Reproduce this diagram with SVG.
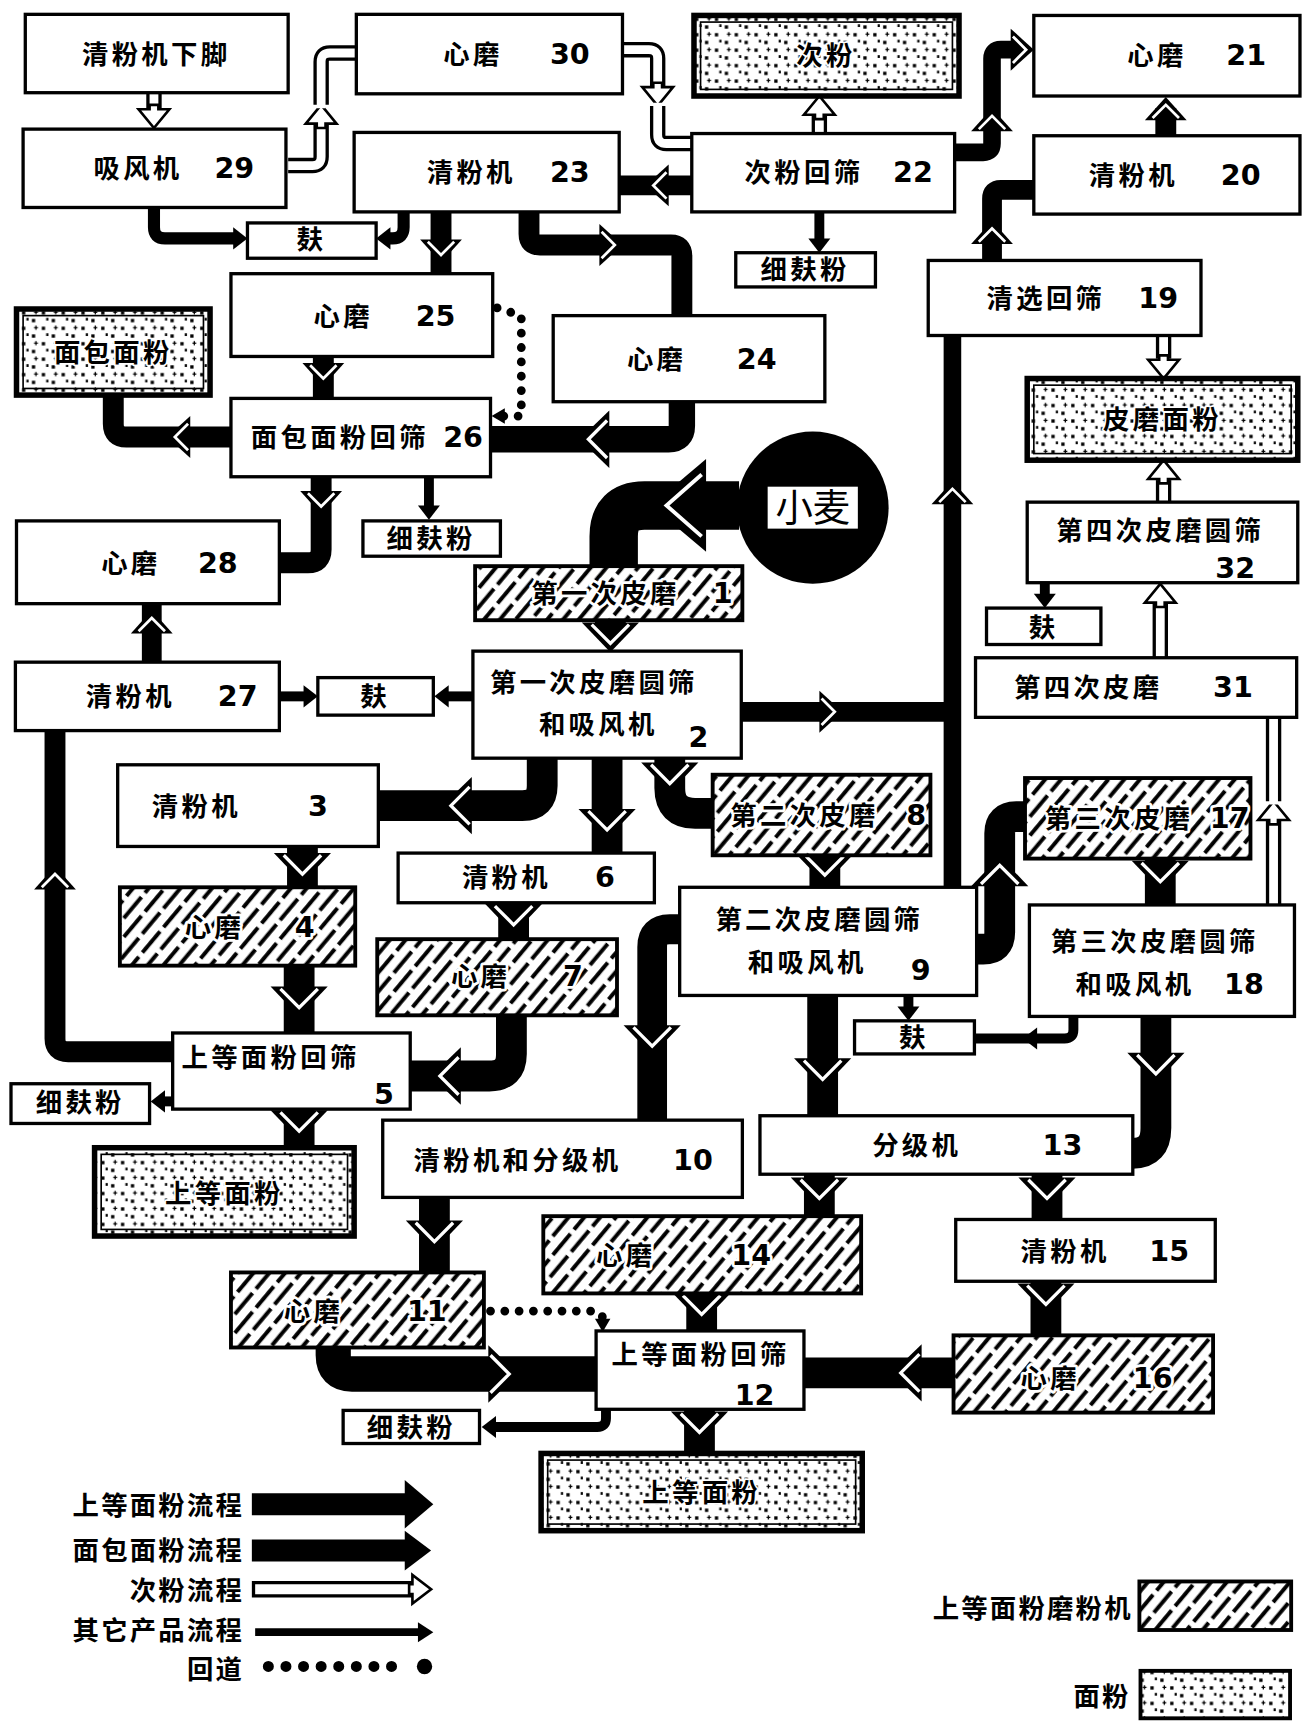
<svg xmlns="http://www.w3.org/2000/svg" width="1311" height="1725" viewBox="0 0 1311 1725">
<defs>
<style>
.box{fill:#fff;stroke:#000;stroke-width:3}
.hb{fill:url(#hatch);stroke:#000;stroke-width:3.5}
.db{fill:url(#dots);stroke:#000;stroke-width:5}
.di{fill:none;stroke:#000;stroke-width:1.5}
.t{font-family:"Noto Sans CJK SC","Noto Sans CJK JP",sans-serif;font-size:24px;font-weight:700;letter-spacing:3px;fill:#000}
.n{font-family:"DejaVu Sans","Liberation Sans",sans-serif;font-size:26px;font-weight:700;letter-spacing:0}
.halo{paint-order:stroke;stroke:#fff;stroke-width:5px;stroke-linejoin:round}
.T{fill:none;stroke:#000;stroke-width:28}
.M{fill:none;stroke:#000;stroke-width:19}
.S{fill:none;stroke:#000;stroke-width:9}
.hoB{fill:none;stroke:#000;stroke-width:14;stroke-linejoin:round}
.hoW{fill:none;stroke:#fff;stroke-width:8;stroke-linejoin:round}
.dot{fill:none;stroke:#000;stroke-width:8;stroke-linecap:round;stroke-dasharray:0 13}
.lt{font-family:"Noto Sans CJK SC","Noto Sans CJK JP",sans-serif;font-size:24px;font-weight:700;letter-spacing:2px;text-anchor:end}
</style>
<pattern id="hatch" width="22" height="30" patternUnits="userSpaceOnUse" patternTransform="rotate(40)">
<rect width="22" height="30" fill="#fff"/>
<line x1="5" y1="0" x2="5" y2="25" stroke="#000" stroke-width="3.6"/>
<line x1="16" y1="13" x2="16" y2="30" stroke="#000" stroke-width="3.6"/>
<line x1="16" y1="0" x2="16" y2="8" stroke="#000" stroke-width="3.6"/>
</pattern>
<pattern id="dots" width="18" height="14" patternUnits="userSpaceOnUse">
<rect width="18" height="14" fill="#fff"/>
<rect x="2" y="2" width="3" height="3"/>
<rect x="11" y="9" width="3" height="3"/>
<rect x="6" y="8" width="2" height="2.5"/>
<path d="M13,3h3.5M14.7,1.2v3.6" stroke="#000" stroke-width="1.2"/>
</pattern>
<g id="hT"><path d="M0,0 L-27,-26 L-27,26 Z"/><path d="M-25,-17 L-8,0 L-25,17" fill="none" stroke="#fff" stroke-width="3"/></g>
<g id="hM"><path d="M0,0 L-21,-19 L-21,19 Z"/><path d="M-19,-12 L-7,0 L-19,12" fill="none" stroke="#fff" stroke-width="2.5"/></g>
<g id="hB"><path d="M0,0 L-50,-42 L-50,42 Z"/><path d="M-46,-28 L-14,0 L-46,28" fill="none" stroke="#fff" stroke-width="3.5"/></g>
<g id="hS"><path d="M0,0 L-13,-10 L-13,10 Z"/></g>
<g id="hD"><path d="M0,0 L-12,-7 L-12,7 Z"/></g>
<g id="hH"><path d="M0,0 L-17,-14 L-17,-4 L-21,-4 L-21,4 L-17,4 L-17,14 Z" fill="#fff" stroke="#000" stroke-width="2.4"/></g>
</defs>
<rect width="1311" height="1725" fill="#fff"/>
<g transform="scale(1.0998 1.1036)">

<g id="connectors">
<!-- hollow -->
<path class="hoB" d="M140,84 V98"/><path class="hoW" d="M140,84 V98"/><use href="#hH" transform="translate(140,116) rotate(90)"/>
<path class="hoB" d="M262,150 H284 Q292,150 292,142 V113"/><path class="hoW" d="M262,150 H284 Q292,150 292,142 V113"/><use href="#hH" transform="translate(292,95) rotate(-90)"/>
<path class="hoB" d="M292,95 V56 Q292,48 300,48 H323"/><path class="hoW" d="M292,98 V56 Q292,48 300,48 H323"/>
<path class="hoB" d="M566,45 H590 Q598,45 598,53 V78"/><path class="hoW" d="M566,45 H590 Q598,45 598,53 V78"/><use href="#hH" transform="translate(598,96) rotate(90)"/>
<path class="hoB" d="M598,96 V122 Q598,130 606,130 H629"/><path class="hoW" d="M598,93 V122 Q598,130 606,130 H629"/>
<path class="hoB" d="M745,120 V105"/><path class="hoW" d="M745,120 V105"/><use href="#hH" transform="translate(745,87) rotate(-90)"/>
<path class="hoB" d="M1058,304 V325"/><path class="hoW" d="M1058,304 V325"/><use href="#hH" transform="translate(1058,343) rotate(90)"/>
<path class="hoB" d="M1058,455 V435"/><path class="hoW" d="M1058,455 V435"/><use href="#hH" transform="translate(1058,417) rotate(-90)"/>
<path class="hoB" d="M1055,596 V547"/><path class="hoW" d="M1055,596 V547"/><use href="#hH" transform="translate(1055,529) rotate(-90)"/>
<path class="hoB" d="M1158,820 V744"/><path class="hoW" d="M1158,820 V744"/><use href="#hH" transform="translate(1158,726) rotate(-90)"/>
<path class="hoB" d="M1158,726 V650"/><path class="hoW" d="M1158,729 V650"/>
<!-- thick -->
<path class="M" style="stroke-width:18" d="M629,168 H563"/><use href="#hM" transform="translate(587,168) rotate(180)"/>
<path class="T" d="M555,562 V575"/><use href="#hT" transform="translate(555,591) rotate(90)"/>
<path class="T" d="M493,687 V712 Q493,730 475,730 H344"/><use href="#hT" transform="translate(402,730) rotate(180)"/>
<path class="T" d="M552,687 V773"/><use href="#hT" transform="translate(552,760) rotate(90)"/>
<path class="T" style="stroke-width:28" d="M609,687 V714 Q609,737 632,737 H648"/><use href="#hT" transform="translate(609,718) rotate(90)"/>
<path class="T" d="M275,767 V804"/><use href="#hT" transform="translate(275,800) rotate(90)"/>
<path class="T" d="M272,875 V936"/><use href="#hT" transform="translate(272,921) rotate(90)"/>
<path class="T" d="M467,818 V851"/><use href="#hT" transform="translate(467,846) rotate(90)"/>
<path class="T" d="M465,920 V955 Q465,975 445,975 H373"/><use href="#hT" transform="translate(392,975) rotate(180)"/>
<path class="T" d="M272,1005 V1040"/><use href="#hT" transform="translate(272,1033) rotate(90)"/>
<path class="T" d="M750,775 V804"/><use href="#hT" transform="translate(750,801) rotate(90)"/>
<path class="T" d="M888,860 H894 Q909,860 909,845 V755 Q909,740 924,740 H932"/><use href="#hT" transform="translate(909,776) rotate(-90)"/>
<path class="T" d="M1055,778 V820"/><use href="#hT" transform="translate(1055,807) rotate(90)"/>
<path class="T" d="M748,902 V1011"/><use href="#hT" transform="translate(748,986) rotate(90)"/>
<path class="T" d="M1051,921 V1022 Q1051,1045 1030,1045"/><use href="#hT" transform="translate(1051,981) rotate(90)"/>
<path class="T" style="stroke-width:27" d="M618,842 H609 Q593,842 593,858 V1015"/><use href="#hT" transform="translate(593,956) rotate(90)"/>
<path class="T" d="M395,1085 V1153"/><use href="#hT" transform="translate(395,1133) rotate(90)"/>
<path class="T" style="stroke-width:32" d="M303,1221 V1228 Q303,1245 320,1245 H542"/><use href="#hT" transform="translate(471,1245) rotate(0)"/>
<path class="T" d="M636,1277 V1317"/><use href="#hT" transform="translate(636,1306) rotate(90)"/>
<path class="T" d="M745,1064 V1102"/><use href="#hT" transform="translate(745,1094) rotate(90)"/>
<path class="T" d="M952,1064 V1105"/><use href="#hT" transform="translate(952,1094) rotate(90)"/>
<path class="T" d="M638,1172 V1206"/><use href="#hT" transform="translate(638,1199) rotate(90)"/>
<path class="T" d="M951,1161 V1210"/><use href="#hT" transform="translate(951,1190) rotate(90)"/>
<path class="T" d="M867,1244 H731"/><use href="#hT" transform="translate(811,1244) rotate(180)"/>
<!-- big wheat arrow -->
<path fill="none" stroke="#000" stroke-width="44" d="M672,458 H586 Q558,458 558,486 V514"/><use href="#hB" transform="translate(592,458) rotate(180)"/>
<!-- medium -->
<path class="M" style="stroke-width:16" d="M868,138 H894 Q902,138 902,130 V53 Q902,45 910,45 H928"/><use href="#hM" transform="translate(940,45)"/><use href="#hM" transform="translate(902,98) rotate(-90)"/>
<path class="M" d="M1060,123 V98"/><use href="#hM" transform="translate(1060,88) rotate(-90)"/>
<path class="M" style="stroke-width:18" d="M902,236 V180 Q902,172 910,172 H940"/><use href="#hM" transform="translate(902,200) rotate(-90)"/>
<path class="M" style="stroke-width:16" d="M866,804 V304"/><use href="#hM" transform="translate(866,436) rotate(-90)"/>
<path class="M" style="stroke-width:18" d="M674,645 H866"/><use href="#hM" transform="translate(766,645)"/>
<path class="M" d="M401,192 V248"/><use href="#hM" transform="translate(401,238) rotate(90)"/>
<path class="M" d="M481,192 V212 Q481,222 491,222 H610 Q620,222 620,232 V287"/><use href="#hM" transform="translate(566,222)"/>
<path class="M" style="stroke-width:24" d="M620,365 V386 Q620,398 608,398 H446"/><use href="#hT" transform="translate(527,398) rotate(180)"/>
<path class="M" d="M294,323 V361"/><use href="#hM" transform="translate(294,350) rotate(90)"/>
<path class="M" d="M210,396 H115 Q103,396 103,384 V358"/><use href="#hM" transform="translate(152,396) rotate(180)"/>
<path class="M" d="M292,432 V498 Q292,510 280,510 H254"/><use href="#hM" transform="translate(292,466) rotate(90)"/>
<path class="M" style="stroke-width:18" d="M138,600 V547"/><use href="#hM" transform="translate(138,553) rotate(-90)"/>
<path class="M" d="M157,953 H62 Q50,953 50,941 V662"/><use href="#hM" transform="translate(50,785) rotate(-90)"/>
<!-- small -->
<path class="S" d="M745,192 V222"/><use href="#hS" transform="translate(745,229) rotate(90)"/>
<path class="S" d="M950,528 V544"/><use href="#hS" transform="translate(950,551) rotate(90)"/>
<path class="S" style="stroke-width:11" d="M140,188 V206 Q140,216 150,216 H215"/><use href="#hS" transform="translate(225,216)"/>
<path class="S" style="stroke-width:11" d="M367,192 V206 Q367,216 357,216 H352"/><use href="#hS" transform="translate(342,216) rotate(180)"/>
<path class="S" d="M390,432 V462"/><use href="#hS" transform="translate(390,471) rotate(90)"/>
<path class="S" d="M430,631 H402"/><use href="#hS" transform="translate(395,631) rotate(180)"/>
<path class="S" d="M254,631 H280"/><use href="#hS" transform="translate(289,631)"/>
<path class="S" d="M157,998 H146"/><use href="#hS" transform="translate(137,998) rotate(180)"/>
<path class="S" d="M976,921 V933 Q976,941 968,941 H886"/><use href="#hS" transform="translate(930,941) rotate(180)"/>
<path class="S" d="M826,902 V918"/><use href="#hS" transform="translate(826,925) rotate(90)"/>
<path class="S" d="M551,1277 V1285 Q551,1293 543,1293 H445"/><use href="#hS" transform="translate(438,1293) rotate(180)"/>
<!-- dotted returns -->
<path class="dot" d="M452,279 L474,286 V377 H458"/><use href="#hD" transform="translate(447,377) rotate(180)"/>
<path class="dot" d="M446,1188 H540 Q548,1188 548,1196 V1200"/><use href="#hD" transform="translate(548,1207) rotate(90)"/>
</g>

<g id="n-qfjxj"><rect class="box" x="23" y="13" width="239" height="71"/><text class="t" x="142" y="58" text-anchor="middle">清粉机下脚</text></g>
<g id="n29"><rect class="box" x="21" y="117" width="239" height="71"/><text class="t" y="161"><tspan x="85">吸风机</tspan><tspan class="n" x="195">29</tspan></text></g>
<g id="n30"><rect class="box" x="324" y="13" width="242" height="72"/><text class="t" y="58"><tspan x="403">心磨</tspan><tspan class="n" x="500">30</tspan></text></g>
<g id="n-cifen"><rect class="db" x="631" y="14" width="241" height="73"/><rect class="di" x="637" y="20" width="229" height="61"/><text class="t halo" style="stroke-width:3px" x="751" y="59" text-anchor="middle">次粉</text></g>
<g id="n21"><rect class="box" x="940" y="14" width="242" height="73"/><text class="t" y="59"><tspan x="1025">心磨</tspan><tspan class="n" x="1115">21</tspan></text></g>
<g id="n23"><rect class="box" x="322" y="120" width="241" height="72"/><text class="t" y="165"><tspan x="388">清粉机</tspan><tspan class="n" x="500">23</tspan></text></g>
<g id="n22"><rect class="box" x="629" y="121" width="239" height="71"/><text class="t" y="165"><tspan x="677">次粉回筛</tspan><tspan class="n" x="812">22</tspan></text></g>
<g id="n20"><rect class="box" x="940" y="123" width="242" height="71"/><text class="t" y="168"><tspan x="990">清粉机</tspan><tspan class="n" x="1110">20</tspan></text></g>
<g id="n-fu1"><rect class="box" x="225" y="202" width="117" height="32"/><text class="t" x="283" y="226" text-anchor="middle">麸</text></g>
<g id="n-xff1"><rect class="box" x="669" y="229" width="127" height="31"/><text class="t" x="732" y="253" text-anchor="middle">细麸粉</text></g>
<g id="n25"><rect class="box" x="210" y="248" width="238" height="75"/><text class="t" y="295"><tspan x="285">心磨</tspan><tspan class="n" x="378">25</tspan></text></g>
<g id="n-mbmf"><rect class="db" x="15" y="280" width="176" height="78"/><rect class="di" x="21" y="286" width="164" height="66"/><text class="t halo" style="stroke-width:3px" x="103" y="328" text-anchor="middle">面包面粉</text></g>
<g id="n24"><rect class="box" x="503" y="286" width="247" height="78"/><text class="t" y="334"><tspan x="570">心磨</tspan><tspan class="n" x="670">24</tspan></text></g>
<g id="n19"><rect class="box" x="844" y="236" width="248" height="68"/><text class="t" y="279"><tspan x="897">清选回筛</tspan><tspan class="n" x="1035">19</tspan></text></g>
<g id="n-pmmf"><rect class="db" x="934" y="343" width="246" height="74"/><rect class="di" x="940" y="349" width="234" height="62"/><text class="t halo" style="stroke-width:3px" x="1057" y="389" text-anchor="middle">皮磨面粉</text></g>
<g id="n26"><rect class="box" x="210" y="361" width="236" height="71"/><text class="t" y="405"><tspan x="228">面包面粉回筛</tspan><tspan class="n" x="403">26</tspan></text></g>
<g id="n-xff2"><rect class="box" x="330" y="472" width="125" height="32"/><text class="t" x="392" y="497" text-anchor="middle">细麸粉</text></g>
<g id="n-xiaomai"><circle cx="739" cy="460" r="69" fill="#000"/><rect x="698" y="441" width="82" height="38" fill="#fff"/><text x="739" y="472" text-anchor="middle" style="font-family:'Noto Sans CJK SC',sans-serif;font-size:34px;font-weight:400">小麦</text></g>
<g id="n32"><rect class="box" x="934" y="455" width="246" height="73"/><text class="t" x="1055" y="489" text-anchor="middle">第四次皮磨圆筛</text><text class="t"><tspan class="n" x="1105" y="524">32</tspan></text></g>
<g id="n28"><rect class="box" x="15" y="472" width="239" height="75"/><text class="t" y="519"><tspan x="92">心磨</tspan><tspan class="n" x="180">28</tspan></text></g>
<g id="n1"><rect class="hb" x="432" y="513" width="243" height="49"/><text class="t halo" y="546"><tspan x="483">第一次皮磨</tspan><tspan class="n" x="648">1</tspan></text></g>
<g id="n-fu2"><rect class="box" x="897" y="551" width="104" height="33"/><text class="t" x="949" y="577" text-anchor="middle">麸</text></g>
<g id="n27"><rect class="box" x="14" y="600" width="240" height="62"/><text class="t" y="640"><tspan x="78">清粉机</tspan><tspan class="n" x="198">27</tspan></text></g>
<g id="n-fu3"><rect class="box" x="289" y="614" width="105" height="34"/><text class="t" x="341" y="640" text-anchor="middle">麸</text></g>
<g id="n2"><rect class="box" x="430" y="590" width="244" height="97"/><text class="t" x="540" y="627" text-anchor="middle">第一次皮磨圆筛</text><text class="t" y="665"><tspan x="490">和吸风机</tspan></text><text class="t"><tspan class="n" x="626" y="677">2</tspan></text></g>
<g id="n31"><rect class="box" x="887" y="596" width="292" height="54"/><text class="t" y="632"><tspan x="922">第四次皮磨</tspan><tspan class="n" x="1103">31</tspan></text></g>
<g id="n3"><rect class="box" x="107" y="693" width="237" height="74"/><text class="t" y="739"><tspan x="138">清粉机</tspan><tspan class="n" x="280">3</tspan></text></g>
<g id="n8"><rect class="hb" x="648" y="702" width="198" height="73"/><text class="t halo" y="748"><tspan x="664">第二次皮磨</tspan><tspan class="n" x="824">8</tspan></text></g>
<g id="n17"><rect class="hb" x="932" y="705" width="205" height="73"/><text class="t halo" y="750"><tspan x="950">第三次皮磨</tspan><tspan class="n" x="1100">17</tspan></text></g>
<g id="n6"><rect class="box" x="362" y="773" width="233" height="45"/><text class="t" y="804"><tspan x="420">清粉机</tspan><tspan class="n" x="541">6</tspan></text></g>
<g id="n4"><rect class="hb" x="109" y="804" width="214" height="71"/><text class="t halo" y="849"><tspan x="168">心磨</tspan><tspan class="n" x="268">4</tspan></text></g>
<g id="n9"><rect class="box" x="618" y="804" width="270" height="98"/><text class="t" x="745" y="842" text-anchor="middle">第二次皮磨圆筛</text><text class="t" y="881"><tspan x="680">和吸风机</tspan></text><text class="t"><tspan class="n" x="828" y="888">9</tspan></text></g>
<g id="n18"><rect class="box" x="936" y="820" width="241" height="101"/><text class="t" x="1050" y="862" text-anchor="middle">第三次皮磨圆筛</text><text class="t" y="901"><tspan x="978">和吸风机</tspan><tspan class="n" x="1113">18</tspan></text></g>
<g id="n7"><rect class="hb" x="343" y="851" width="218" height="69"/><text class="t halo" y="893"><tspan x="410">心磨</tspan><tspan class="n" x="512">7</tspan></text></g>
<g id="n-fu4"><rect class="box" x="777" y="925" width="109" height="30"/><text class="t" x="831" y="949" text-anchor="middle">麸</text></g>
<g id="n5"><rect class="box" x="157" y="936" width="216" height="69"/><text class="t" y="967"><tspan x="165">上等面粉回筛</tspan></text><text class="t"><tspan class="n" x="340" y="1000">5</tspan></text></g>
<g id="n-xff3"><rect class="box" x="10" y="982" width="126" height="36"/><text class="t" x="73" y="1008" text-anchor="middle">细麸粉</text></g>
<g id="n10"><rect class="box" x="348" y="1015" width="327" height="70"/><text class="t" y="1060"><tspan x="376">清粉机和分级机</tspan><tspan class="n" x="612">10</tspan></text></g>
<g id="n13"><rect class="box" x="691" y="1011" width="339" height="53"/><text class="t" y="1047"><tspan x="793">分级机</tspan><tspan class="n" x="948">13</tspan></text></g>
<g id="n-sdmf1"><rect class="db" x="86" y="1040" width="236" height="80"/><rect class="di" x="92" y="1046" width="224" height="68"/><text class="t halo" style="stroke-width:3px" x="204" y="1090" text-anchor="middle">上等面粉</text></g>
<g id="n14"><rect class="hb" x="494" y="1102" width="289" height="70"/><text class="t halo" y="1146"><tspan x="542">心磨</tspan><tspan class="n" x="665">14</tspan></text></g>
<g id="n15"><rect class="box" x="869" y="1105" width="236" height="56"/><text class="t" y="1143"><tspan x="928">清粉机</tspan><tspan class="n" x="1045">15</tspan></text></g>
<g id="n11"><rect class="hb" x="210" y="1153" width="230" height="68"/><text class="t halo" y="1197"><tspan x="258">心磨</tspan><tspan class="n" x="370">11</tspan></text></g>
<g id="n12"><rect class="box" x="542" y="1206" width="189" height="71"/><text class="t" y="1236"><tspan x="556">上等面粉回筛</tspan></text><text class="t"><tspan class="n" x="668" y="1273">12</tspan></text></g>
<g id="n16"><rect class="hb" x="867" y="1210" width="236" height="70"/><text class="t halo" y="1258"><tspan x="928">心磨</tspan><tspan class="n" x="1030">16</tspan></text></g>
<g id="n-xff4"><rect class="box" x="312" y="1278" width="124" height="30"/><text class="t" x="374" y="1302" text-anchor="middle">细麸粉</text></g>
<g id="n-sdmf2"><rect class="db" x="492" y="1317" width="292" height="70"/><rect class="di" x="498" y="1323" width="280" height="58"/><text class="t halo" style="stroke-width:3px" x="638" y="1361" text-anchor="middle">上等面粉</text></g>

<g id="legend">
<text class="lt" x="222" y="1373">上等面粉流程</text>
<text class="lt" x="222" y="1414">面包面粉流程</text>
<text class="lt" x="222" y="1450">次粉流程</text>
<text class="lt" x="222" y="1486">其它产品流程</text>
<text class="lt" x="222" y="1521">回道</text>
<path d="M229,1363 H372" stroke="#000" stroke-width="20" fill="none"/><polygon points="394,1363 368,1341 368,1385"/>
<path d="M229,1405 H372" stroke="#000" stroke-width="20" fill="none"/><polygon points="392,1405 368,1387 368,1423"/>
<path d="M229,1440 H376" stroke="#000" stroke-width="15" fill="none"/><path d="M232,1440 H378" stroke="#fff" stroke-width="9" fill="none"/><polygon points="392,1440 375,1427 375,1435.5 372,1435.5 372,1444.5 375,1444.5 375,1453" fill="#fff" stroke="#000" stroke-width="2.4"/>
<path d="M232,1479 H382" stroke="#000" stroke-width="7" fill="none"/><polygon points="394,1479 380,1470 380,1488"/>
<path d="M244,1510 H372" stroke="#000" stroke-width="10" stroke-linecap="round" stroke-dasharray="0 16" fill="none"/><circle cx="386" cy="1510" r="7"/>
<text class="lt" x="1030" y="1466">上等面粉磨粉机</text><rect class="hb" x="1036" y="1433" width="138" height="44"/>
<text class="lt" x="1028" y="1546">面粉</text><rect class="db" style="stroke-width:3.5" x="1037" y="1514" width="136" height="43"/>
</g>
</g>
</svg>
